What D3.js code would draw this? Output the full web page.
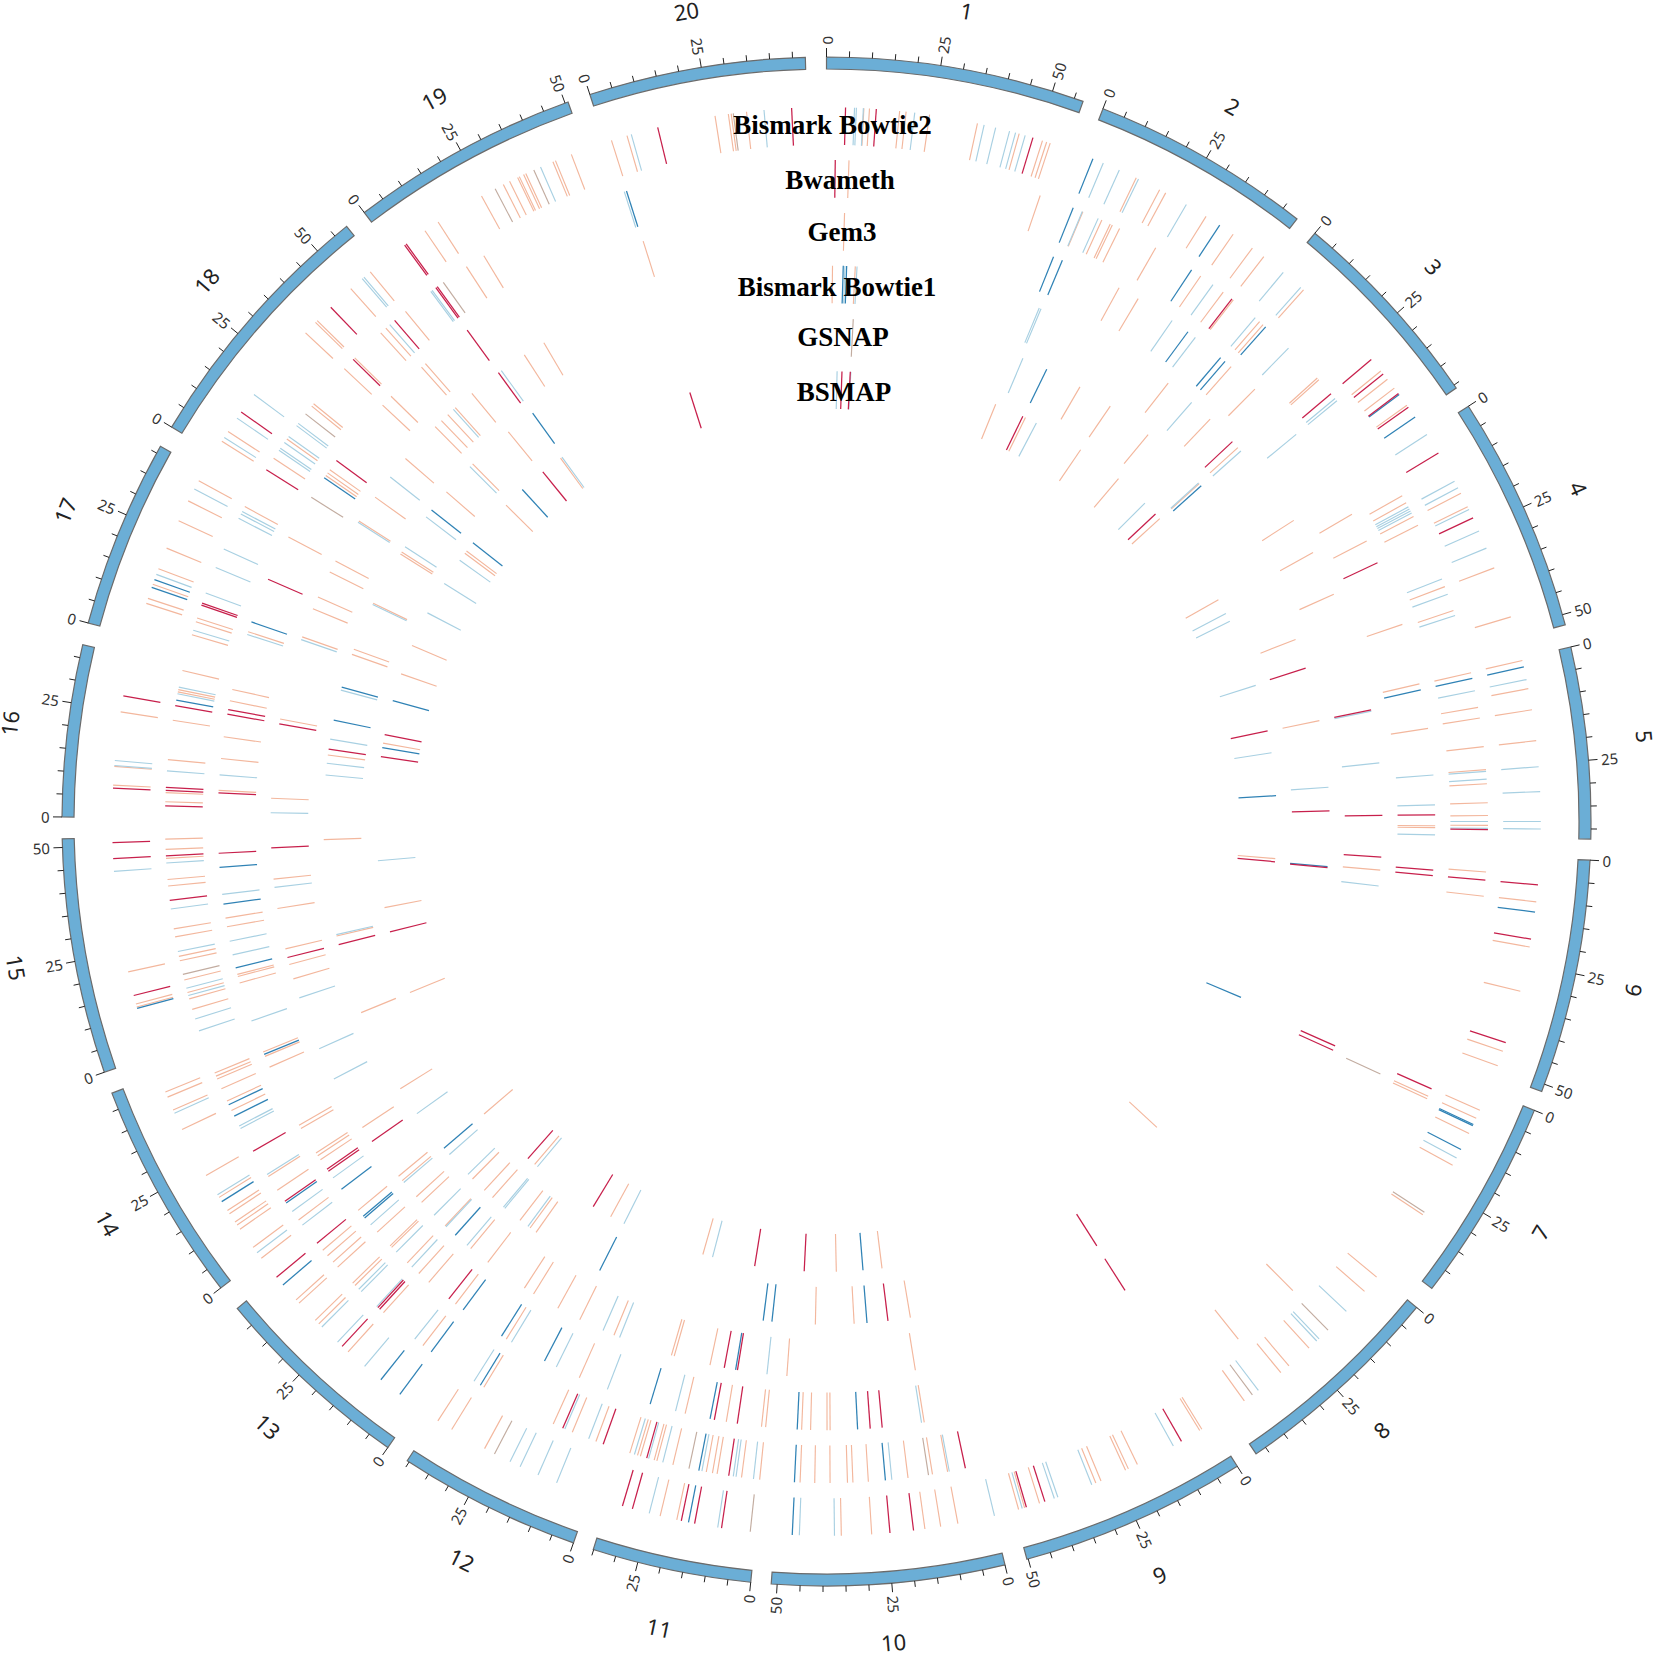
<!DOCTYPE html>
<html><head><meta charset="utf-8">
<script src="https://cdn.jsdelivr.net/npm/d3@7/dist/d3.min.js"></script>
<style>html,body{margin:0;background:#fff}svg{display:block}</style></head>
<body><svg id="c" width="1654" height="1654"></svg>
<script>
const chrNames=["1","2","3","4","5","6","7","8","9","10","11","12","13","14","15","16","17","18","19","20"];
const chrStartDeg=[0,21.2,39.7,57.1,76.8,92.9,112.2,129.47,147.5,166.5,185.69,199.33,215.02,232.4,250.85,270.34,285.05,301.06,322.8,341.97];
const chrLengthMb=[57,48.8,45.8,52.3,42.2,51.7,44.9,47.5,50.3,51.3,35.1,40.5,44.8,48.8,51.9,37.9,41.7,58.3,50.7,47.8];
const trackNames=["Bismark Bowtie2","Bwameth","Gem3","Bismark Bowtie1","GSNAP","BSMAP"];
const labelX=[832.5,840,842,837,843,844];
const labelY=[125,180,231.7,286.7,336.7,391.7];

// positions on the ring, degrees clockwise from the top
const t1Red=[1.53,4,16.8,49.7,51.2,53.2,54.55,58.95,64.85,95.09,99.48,108.03,150.2,162.2,163.75,173,174.9,188.45,190.64,191.73,195.77,196.6,222.7,230.35,255.9,267.02,268.31,272.67,280.13,304.97,316.05,323.8,323.95,346.33,357.2];
const t1Orange=[3,3.45,5.88,6.4,8.3,12.2,15.65,17.6,17.95,18.25,25.7,27.8,28.35,32.1,34.7,36.6,37.75,41.9,50.9,51.75,52.65,54.35,62.65,63.85,69.2,73.35,76.97,79.28,81,83.5,96.46,100.12,103.75,108.76,110,113.84,114.55,115.9,118.77,123.4,129.63,131.13,137.5,139.65,140.5,144.2,148.3,148.5,154.2,155,155.25,157.4,157.85,162.65,163.9,164.4,169.4,170.8,172.08,176.37,178.81,192.1,193.47,208.6,211.65,212.96,222.05,225.3,225.7,227.6,227.95,232.3,233.4,235.2,235.6,235.9,236.7,237,238.25,240.3,244.45,246.17,247.3,247.75,254.95,255.2,257.85,272.92,274.43,278.83,287.78,288.2,289.4,290.73,292.5,294.9,296.67,298.49,302.17,303.09,313.17,314.32,314.52,318.24,320.3,325.8,327.06,331.12,333.1,333.66,334.38,334.53,334.91,335.1,337.48,337.7,339.07,342.48,343.78,351.02,352.1,352.33,353.57];
const t1Light=[2.25,2.4,2.96,7.1,12.75,13.7,14.85,15.35,16.15,22.8,24.2,25.9,30.25,39.75,41.6,57.2,61.55,62.15,64.1,66,67.5,78.54,85.6,87.6,90,90.6,118.1,133.3,136.4,136.66,142.8,150.95,158.2,161.1,161.4,164.1,166.4,179.36,182.18,188.76,194.37,202.2,203.82,205.4,206.3,220.29,223.2,224.95,232.87,238.5,245.9,266,274.5,274.9,290.24,297.74,302.53,304.38,306.72,319.46,319.64,336.4,344.14,354.98];
const t1Dark=[21.9,33.4,53.3,55.5,77.5,97.29,115.1,115.2,117.34,182.75,191.14,216.68,218.6,229.55,237.85,254.83,289.14,289.8];
const t1Mixed=[123.17,135.4,143.4,186.13,207.7,332.36,335.81,352.5];

const t2Red=[.76,37.8,49.7,90.7,95.09,113.84,167.88,188.5,195.77,199.73,203.5,222.5,222.7,230.38,234.96,240.1,263.15,267.02,271.35,272.7,272.96,280.09,289.1,289.28,302.13,314.31,319.24,323.8,323.95];
const t2Orange=[1.95,18.85,22.8,24.6,25.4,25.6,26.3,29.85,34.45,36.85,37.95,40.9,41.3,47.9,48.1,60.5,61.2,62.55,63.4,69.2,71.4,77,80.06,81,83.5,85.5,86.73,88.38,89.48,90.34,94.38,96.49,114.55,114.77,135.17,141.5,169.45,170.78,172.92,176.37,177.71,178.18,179.69,181.02,182.29,185.8,187.38,189.52,189.93,190.47,193.43,194.86,195.1,196.34,196.6,197.3,200.4,202.6,204.4,211.2,217.6,222.05,225.46,225.75,227.65,228.24,228.97,229.6,232.95,236.13,237.54,244.1,245,246.17,247.1,247.36,247.66,253.5,254.45,255.02,256.14,257.85,258.24,259.96,260.66,264.4,264.97,266.81,267.58,268.47,271.71,272.5,275.37,278.8,281.3,281.5,283.19,286.4,287.57,287.92,298.43,303.3,305.33,308.9,309.16,313.2,314.5,317.63,318.23,320.47,327.02,328.8];
const t2Light=[22.75,24.25,35.75,40.4,44.3,50.25,50.5,61.6,61.8,62,62.2,68.5,69.9,71.85,78.6,85.65,86.33,90,90.6,169.3,174.33,186.34,187.86,188.1,190.86,194.33,195.6,196.88,201.07,203.3,212.2,218.5,222.84,224.7,225,232.4,233.87,237.75,242.35,242.6,251.55,252.63,254.75,255.4,258.67,262.4,266.4,274.39,281.13,281.72,286.81,290.2,292.58,294.33,297.28,297.7,297.95,304.13,304.34,304.95,305.6,306.76,307,318.68,323.26,323.4,342.2];
const t2Dark=[21.9,33.5,41.6,77.5,174.89,182.78,191.13,211.55,216.7,234.77,243.55,244.65,280.58,342.4];
const t2Mixed=[171.13,192,256.64,308.04,324.6];

const t3Red=[64.85,89.37,94.58,95.09,174.75,175.88,188.43,190.62,218.35,234.92,235.15,267.01,272.7,280.16,280.6,293.45,306.37,323.82];
const t3Orange=[1.7,28.73,30.8,41.66,44.73,59.68,62.55,71.1,76.93,81.2,90.4,90.58,170.76,179.66,179.95,181.5,182.34,185.74,186.13,189.48,193.43,203.96,211.74,217.56,220.8,222.05,223.53,225.6,225.8,227.57,230.3,236.24,236.7,237,239.7,240.06,246.2,247.3,247.75,254.62,255.25,255.45,260.04,260.87,272.93,275.94,278,281.44,282.53,288.17,297.87,304.65,304.94,305.31,313.17,314.32,318.29,318.78,342.47];
const t3Light=[34.6,37.3,50.5,85.62,88.43,91.26,171.02,194.36,201.1,206.35,211.17,222.95,224.98,228.5,234.16,250.87,257.34,258.66,263.12,274.39,287.89];
const t3Dark=[21.9,22.8,36.43,40.35,40.9,77.52,177.07,182.76,191.03,196.84,207.6,212.27,216.65,229.36,229.56,232.83,247.5,256.08,262.2,265.68,289.14,304.39];
const t3Mixed=[114.5,302.18];

const t4Red=[46.9,78.42,89.38,93.67,113.8,114.3,147.52,189.22,190.6,234.85,255.84,267.29,280.12,323.83];
const t4Orange=[.62,2.97,37.93,43.64,47.73,57.2,61.07,65.87,95.02,170.8,184.09,192.1,195.9,196.2,202.48,206.35,208.9,211.8,212.92,217.54,219.8,223.32,226.75,227.55,229.75,230.34,236.6,253.55,255.1,256.76,261,264.05,272.4,280.62,289.4,292.5,293.81,296.67,297.95,302.73,305.7,310.76,315.25,316.15,317.05,318.1,320.36,327.07,329.44];
const t4Light=[1.9,3.15,22.5,22.7,41.06,48.2,78.55,83.95,96.66,186.15,201.85,203.7,220.3,223.2,224.9,229.5,242.4,245.87,251.5,263.19,270.9,289.1,302.57,308.3,317.84,324.2];
const t4Dark=[1.73,2.08,189.41,221.9];
const t4Mixed=[];

const t5Red=[72.25,88.8,95.25,147.5,172.98,255.84,278.27];
const t5Orange=[30.25,34.34,39.74,47.8,68.8,78.44,170.4,176.85,181.27,215.26,216.1,217.54,221.6,222.86,224.72,237.9,247.67,256.85,267.93,277.6,289.4,290.03,295.7,302.13,302.38,310.93,315.3,320.77];
const t5Light=[22.98,47.7,86.1,216.4,219.75,219.95,225.45,228.55,234.5,257,275.3,276.65,279.42,285.14,295.55,303.1,307.26,314.86];
const t5Dark=[25.96,48.15,95.15,175.38,186.23,187.23,206.8,229.5,281.62,285.5,308.27,324.26];
const t5Mixed=[3.05];

const t6Red=[1.97,3.03,25.85,46.94,78.4,95.13,182.84,189.18,211.2,221.54,255.8,278.27,281.13,320.95,342.33];
const t6Orange=[22.07,26.22,34.36,40.43,47.74,60.5,94.73,132.8,172.92,178.75,195.94,208.64,220.4,229.5,247.67,258.97,280.02,289.14,293,306.56,306.92,314.63,323.8];
const t6Light=[1.35,3.1,27.78,45,62.5,63.6,72.4,81.22,194.66,206.73,219.94,265,297.6,301.9,305.45,324.02];
const t6Dark=[86.72,113,175.35,279.43,285.58,308.26,317.5];
const t6Mixed=[];

const tracks=[
 {Orange:t1Orange,Light:t1Light,Mixed:t1Mixed,Dark:t1Dark,Red:t1Red},
 {Orange:t2Orange,Light:t2Light,Mixed:t2Mixed,Dark:t2Dark,Red:t2Red},
 {Orange:t3Orange,Light:t3Light,Mixed:t3Mixed,Dark:t3Dark,Red:t3Red},
 {Orange:t4Orange,Light:t4Light,Mixed:t4Mixed,Dark:t4Dark,Red:t4Red},
 {Orange:t5Orange,Light:t5Light,Mixed:t5Mixed,Dark:t5Dark,Red:t5Red},
 {Orange:t6Orange,Light:t6Light,Mixed:t6Mixed,Dark:t6Dark,Red:t6Red}];
const colour=d3.scaleOrdinal(["Orange","Light","Mixed","Dark","Red"],["#f3b79d","#a8d0e2","#c2aca0","#2f82b5","#c71f4b"]);

const degPerMb=0.344, cx=826.5, cy=821.5, rOuter=764.5, rInner=752.5, halfLen=18.8;
const rad=d3.scaleLinear().domain([0,360]).range([0,2*Math.PI]);
const trackR=d3.scalePoint().domain(trackNames).range([695.5,431.5]);
const svg=d3.select("#c");
const g=svg.append("g").attr("transform",`translate(${cx},${cy})`);

// chromosome blocks
const arc=d3.arc().innerRadius(rInner).outerRadius(rOuter);
g.selectAll("path.chr").data(chrNames).join("path").attr("class","chr")
 .attr("d",(d,i)=>arc({startAngle:rad(chrStartDeg[i]),endAngle:rad(chrStartDeg[i]+chrLengthMb[i]*degPerMb)}))
 .attr("fill","#6baed6").attr("stroke","#6b6b6b").attr("stroke-width",1.2);

// ticks
chrNames.forEach((n,i)=>{
  const scale=d3.scaleLinear().domain([0,chrLengthMb[i]]).range([chrStartDeg[i],chrStartDeg[i]+chrLengthMb[i]*degPerMb]);
  const ticks=d3.range(0,chrLengthMb[i],5);
  const gt=g.append("g");
  ticks.forEach(t=>{
    const a=scale(t), major=t%25===0;
    const p0=d3.pointRadial(rad(a),rOuter), p1=d3.pointRadial(rad(a),rOuter+(major?9:6));
    gt.append("line").attr("x1",p0[0]).attr("y1",p0[1]).attr("x2",p1[0]).attr("y2",p1[1]).attr("stroke","#222").attr("stroke-width",1);
    if(major){
      const p=d3.pointRadial(rad(a),rOuter+12.5), right=a<180;
      gt.append("text").attr("transform",`translate(${p[0]},${p[1]}) rotate(${right?a-90:a+90})`)
        .attr("text-anchor",right?"start":"end").attr("dominant-baseline","central")
        .attr("font-family","'Noto Sans',sans-serif").attr("font-size",15).attr("fill","#333").text(t);
    }
  });
  const mid=chrStartDeg[i]+chrLengthMb[i]*degPerMb/2, lp=d3.pointRadial(rad(mid),823);
  g.append("text").attr("transform",`translate(${lp[0]},${lp[1]}) rotate(${mid>90&&mid<270?mid-180:mid})`)
   .attr("text-anchor","middle").attr("dominant-baseline","central")
   .attr("font-family","'Noto Sans',sans-serif").attr("font-size",22).attr("fill","#222").text(n);
});

// signal tracks
trackNames.forEach((name,ti)=>{
  const r=trackR(name), t=tracks[ti];
  Object.keys(t).forEach(kind=>{
    g.append("g").attr("stroke",colour(kind)).attr("stroke-width",kind==="Red"||kind==="Dark"?1.25:1.15)
     .selectAll("line").data(t[kind]).join("line")
     .attr("x1",d=>d3.pointRadial(rad(d),r-halfLen)[0]).attr("y1",d=>d3.pointRadial(rad(d),r-halfLen)[1])
     .attr("x2",d=>d3.pointRadial(rad(d),r+halfLen)[0]).attr("y2",d=>d3.pointRadial(rad(d),r+halfLen)[1]);
  });
});

// track names
svg.selectAll("text.track").data(trackNames).join("text").attr("class","track")
 .attr("x",(d,i)=>labelX[i]).attr("y",(d,i)=>labelY[i]).attr("text-anchor","middle").attr("dominant-baseline","central")
 .attr("font-family","'Liberation Serif',serif").attr("font-weight","bold").attr("font-size",27).attr("fill","#000").text(d=>d);
</script></body></html>
